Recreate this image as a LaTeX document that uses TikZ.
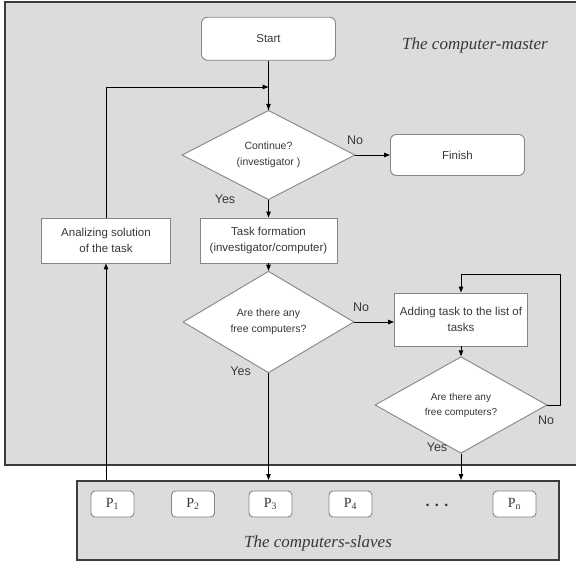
\documentclass[tikz,border=0pt]{standalone}
\usepackage{fontspec}
\setmainfont{Liberation Serif}
\setsansfont{Liberation Sans}
\usetikzlibrary{shapes.geometric,arrows.meta,calc}
\definecolor{bgfill}{HTML}{DCDCDC}
\definecolor{frame}{HTML}{3C3C3C}
\definecolor{boxline}{HTML}{858585}
\definecolor{txt}{HTML}{383838}
\tikzset{
  boxtext/.style={font=\sffamily\fontsize{11.5}{16.5}\selectfont, text=txt, align=center},
  procbox/.style={draw=boxline, line width=0.9pt, fill=white, inner sep=0pt, boxtext},
  termbox/.style={procbox, rounded corners=6pt},
  decbox/.style={draw=boxline, line width=0.9pt, fill=white, diamond, inner sep=0pt,
     font=\sffamily\fontsize{10.5}{16}\selectfont, text=txt, align=center},
  pbox/.style={draw=boxline, line width=0.9pt, fill=white, rounded corners=4pt, inner sep=0pt,
     minimum width=43pt, minimum height=26pt, font=\fontsize{14}{16}\selectfont, text=txt},
  lbl/.style={font=\sffamily\fontsize{12.5}{14}\selectfont, text=txt},
  arr/.style={draw=black, line width=0.9pt, -{Triangle[length=6pt,width=4.5pt]}},
  ln/.style={draw=black, line width=0.9pt},
  areatitle/.style={font=\itshape\fontsize{17}{20}\selectfont, text=txt}
}
\begin{document}
\begin{tikzpicture}[x=1pt,y=-1pt]
\useasboundingbox (0,0) rectangle (576,562);
\fill[white] (0,0) rectangle (576,562);
% master area
\draw[frame, fill=bgfill, line width=2pt] (5,2) rectangle (590,465);
\node[areatitle] (mtitle) at (475,45) {The computer-master};
% slaves area
\node[draw=frame, fill=bgfill, line width=2pt, minimum width=482pt, minimum height=79pt, inner sep=0pt] (slaves) at (318,520.5) {};
\node[areatitle] (stitle) at (318,543) {The computers-slaves};
\node[pbox] (p1) at (112.5,504) {P\textsubscript{1}};
\node[pbox] (p2) at (193,504) {P\textsubscript{2}};
\node[pbox] (p3) at (270.5,504) {P\textsubscript{3}};
\node[pbox] (p4) at (350.5,504) {P\textsubscript{4}};
\node[font=\bfseries\fontsize{16}{16}\selectfont, text=txt] (dots) at (437,505) {. . .};
\node[pbox] (pn) at (514.5,504) {P\textsubscript{n}};
% flowchart nodes
\node[termbox, minimum width=134pt, minimum height=43pt] (start) at (268.5,38.7) {Start};
\node[decbox, minimum width=173pt, minimum height=80pt] (d1) at (268.5,155) {Continue?\\(investigator )};
\node[termbox, minimum width=134pt, minimum height=41pt] (finish) at (457.5,155) {Finish};
\node[procbox, minimum width=137pt, minimum height=45pt] (task) at (268.5,240.5) {Task formation\\(investigator/computer)};
\node[procbox, minimum width=129pt, minimum height=45pt] (anal) at (106,240.5) {Analizing solution\\of the task};
\node[decbox, minimum width=171pt, minimum height=72pt] (d2) at (268.5,322) {Are there any\\free computers?};
\node[procbox, minimum width=133pt, minimum height=53pt] (add) at (461,319.5) {Adding task to the list of\\tasks};
\node[decbox, minimum width=172pt, minimum height=74pt, font=\sffamily\fontsize{10}{15}\selectfont] (d3) at (461,405) {Are there any\\free computers?};
\coordinate (m) at (268.5,87);
\coordinate (fb) at (560,274);
% labels
\node[lbl] (no1) at (355,140) {No};
\node[lbl] (yes1) at (225,199) {Yes};
\node[lbl] (no2) at (361,307) {No};
\node[lbl] (yes2) at (240.6,371) {Yes};
\node[lbl] (no3) at (546,420) {No};
\node[lbl] (yes3) at (437,447) {Yes};
% connectors
\draw[ln] (start.south) -- (d1.north);
\draw[arr] (m) -- (d1.north);
\draw[arr] (anal.north) |- (m);
\draw[arr] (d1.east) -- (finish.west);
\draw[arr] (d1.south) -- (task.north);
\draw[arr] (task.south) -- (d2.north);
\draw[arr] (d2.east) -- (d2.east -| add.west);
\draw[arr] (add.south) -- (d3.north);
\draw[arr] (d3.east) -| (fb) -| (add.north);
\draw[arr] (d2.south) -- (d2.south |- slaves.north);
\draw[arr] (d3.south) -- (d3.south |- slaves.north);
\draw[arr] (anal.south |- slaves.north) -- (anal.south);
\end{tikzpicture}
\end{document}
